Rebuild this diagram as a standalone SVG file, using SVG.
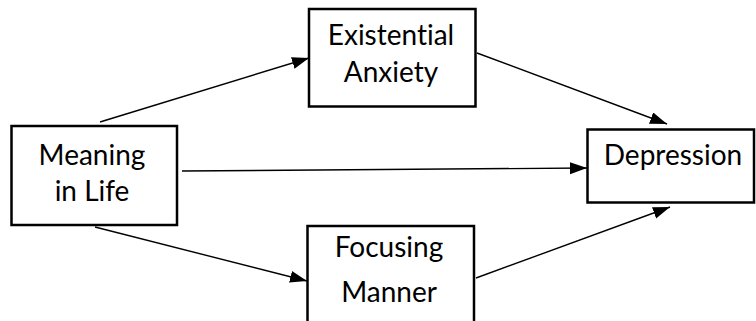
<svg xmlns="http://www.w3.org/2000/svg" width="756" height="321" viewBox="0 0 756 321">
<style>
.box{fill:#fff;stroke:#000;stroke-width:2.5}
.lbl{font-family:Lato,"Liberation Sans",sans-serif;font-size:28px;fill:#000;text-anchor:middle;font-variant-ligatures:none}
.edge{stroke:#000;stroke-width:1.4;fill:none;marker-end:url(#ah)}
</style>
<defs>
<marker id="ah" markerUnits="userSpaceOnUse" markerWidth="18" markerHeight="14" refX="17" refY="6" orient="auto">
<path d="M0,0 L17,6 L0,12 Z" fill="#000"/>
</marker>
</defs>
<rect width="756" height="321" fill="#fff"/>
<g id="connectors">
<line class="edge" x1="100" y1="122" x2="309" y2="58"/>
<line class="edge" x1="182" y1="171" x2="587" y2="168"/>
<line class="edge" x1="95" y1="227" x2="307" y2="281"/>
<line class="edge" x1="477" y1="53" x2="667" y2="124"/>
<line class="edge" x1="476" y1="278" x2="670" y2="207"/>
</g>
<g id="meaning">
<rect class="box" x="11.5" y="126" width="165.5" height="99"/>
<text class="lbl" x="92" y="165">Meaning</text>
<text class="lbl" x="92" y="201">in Life</text>
</g>
<g id="existential">
<rect class="box" x="309" y="9" width="166.5" height="97.5"/>
<text class="lbl" x="391" y="45">Existential</text>
<text class="lbl" x="391" y="82">Anxiety</text>
</g>
<g id="focusing">
<rect class="box" x="307.5" y="226" width="166.5" height="98"/>
<text class="lbl" x="389" y="257">Focusing</text>
<text class="lbl" x="389" y="302">Manner</text>
</g>
<g id="depression">
<rect class="box" x="587.5" y="129.5" width="166.5" height="73"/>
<text class="lbl" x="673" y="165">Depression</text>
</g>
</svg>
